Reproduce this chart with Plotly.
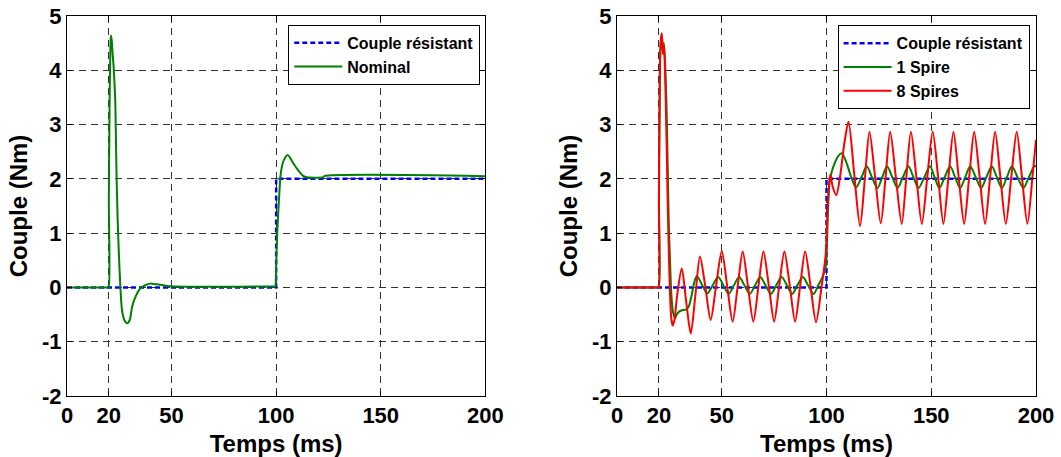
import plotly.graph_objects as go

# ---------------- data ----------------
x_ticks = [0, 20, 50, 100, 150, 200]
y_ticks = [-2, -1, 0, 1, 2, 3, 4, 5]

# load torque (step at 100 ms)
t_ref = [0, 100, 100, 200]
c_ref = [0, 0, 2, 2]

# left panel : nominal
t_nom = [0, 19.5, 19.9, 20.0, 20.3, 20.5, 20.8, 21.0, 21.4, 21.8, 22.3, 22.8, 23.1, 23.6,
         24.2, 24.8, 25.5, 26.3, 27.4, 28.7, 30.0, 31.1, 33.0, 35.0, 37.4, 39.8, 42.2,
         44.6, 49.4, 99.3, 99.6, 100.0, 100.5, 101.1, 101.7, 102.3, 103.6, 105.5, 108.3,
         110.7, 113.1, 114.7, 122.5, 123.0, 200]
c_nom = [0, 0, 0, 1.6, 3.1, 3.8, 4.5, 4.64, 4.55, 4.31, 4.06, 3.69, 3.39, 2.25,
         1.27, 0.63, 0.02, -0.42, -0.6, -0.66, -0.6, -0.36, -0.15, -0.02, 0.04, 0.07, 0.06,
         0.05, 0.02, 0.02, 0.02, 0.4, 1.0, 1.45, 1.85, 2.13, 2.34, 2.44, 2.28,
         2.15, 2.05, 2.03, 2.03, 2.05, 2.05]

# right panel : 1 spire
t_s1 = [0, 19.5, 19.9, 20.0, 20.3, 20.6, 21.0, 21.4, 21.9, 22.4, 23.0, 23.6, 24.2, 24.7,
        25.3, 25.9, 26.7, 27.7, 28.5, 29.5, 31.0, 32.8, 34.2, 35.6, 36.8, 38.1, 40.6,
        43.1, 45.7, 48.3, 50.8, 53.3, 55.8, 58.3, 60.8, 63.4, 65.9, 68.4, 70.9, 73.5,
        76.0, 78.6, 81.1, 83.6, 86.1, 88.7, 91.2, 93.8, 96.2, 98.4, 99.7, 100.2, 100.8,
        101.5, 102.5, 104.0, 105.6, 107.3, 109.5, 111.8, 114.1, 116.6, 119.2, 121.7,
        124.3, 126.6, 128.9, 131.4, 133.9, 136.5, 139.1, 141.5, 143.9, 146.7, 149.4,
        151.6, 153.9, 156.4, 159.0, 161.4, 163.8, 166.2, 168.6, 171.2, 173.8, 176.3,
        178.9, 181.3, 183.7, 186.1, 188.5, 191.2, 194.0, 196.6, 199.3, 200]
c_s1 = [0, 0, 0, 1.6, 3.2, 4.2, 4.55, 4.65, 4.35, 4.5, 4.1, 3.4, 2.2, 1.2,
        0.5, -0.1, -0.45, -0.57, -0.5, -0.45, -0.42, -0.41, -0.35, -0.15, 0.08, 0.21, 0.05,
        -0.11, 0.04, 0.19, 0.04, -0.12, 0.04, 0.19, 0.04, -0.12, 0.04, 0.19, 0.04, -0.12,
        0.04, 0.19, 0.04, -0.12, 0.04, 0.19, 0.04, -0.12, 0.05, 0.22, 0.4, 0.8, 1.5,
        1.95, 2.13, 2.3, 2.42, 2.47, 2.3, 2.03, 1.84, 2.02, 2.23, 2.03,
        1.83, 2.03, 2.23, 2.03, 1.83, 2.03, 2.23, 2.03, 1.83, 2.03, 2.23,
        2.03, 1.83, 2.03, 2.23, 2.03, 1.83, 2.03, 2.23, 2.03, 1.83, 2.03,
        2.23, 2.03, 1.83, 2.03, 2.23, 2.03, 1.83, 2.03, 2.24, 2.22]

# right panel : 8 spires
t_s8 = [0, 19.5, 19.9, 20.0, 20.3, 20.6, 21.0, 21.4, 21.9, 22.4, 22.9, 23.4, 23.9, 24.4,
        24.9, 25.5, 26.0, 26.6, 27.4, 28.7, 30.9, 33.0, 35.2, 37.4, 39.6, 42.2, 44.7,
        47.3, 50.0, 52.6, 55.2, 57.6, 60.0, 62.5, 65.1, 67.5, 69.9, 72.5, 75.0, 77.4,
        79.9, 82.5, 85.0, 87.4, 89.8, 92.4, 95.0, 97.6, 99.6, 100.3, 101.0, 101.8, 103.0,
        104.7, 106.5, 108.5, 110.5, 113.2, 116.0, 118.3, 120.5, 123.2, 125.9, 128.2,
        130.4, 133.1, 135.9, 138.1, 140.3, 142.9, 145.5, 148.1, 150.7, 153.3, 155.8,
        158.2, 160.6, 163.1, 165.7, 168.1, 170.5, 173.1, 175.7, 178.1, 180.5, 183.0,
        185.6, 188.2, 190.8, 193.3, 195.9, 198.3, 200]
c_s8 = [0, 0, 0, 1.6, 3.2, 4.3, 4.6, 4.68, 4.3, 4.45, 4.0, 3.2, 2.2, 1.2,
        0.4, -0.3, -0.6, -0.7, -0.6, -0.15, 0.35, -0.25, -0.85, -0.15, 0.57, 0.0, -0.6,
        0.03, 0.67, 0.02, -0.63, 0.02, 0.66, 0.02, -0.63, 0.02, 0.66, 0.02, -0.63, 0.02,
        0.66, 0.02, -0.63, 0.02, 0.66, 0.02, -0.64, 0.0, 0.6, 1.2, 1.8, 2.08, 1.85,
        1.70, 2.05, 2.65, 3.05, 2.1, 1.13, 2.0, 2.87, 2.03, 1.18, 2.03,
        2.87, 2.03, 1.17, 2.03, 2.87, 2.03, 1.17, 2.03, 2.87, 2.03, 1.17,
        2.03, 2.87, 2.03, 1.17, 2.03, 2.87, 2.03, 1.17, 2.03, 2.87, 2.03,
        1.17, 2.03, 2.87, 2.03, 1.17, 2.03, 2.72]

# ---------------- figure ----------------
FONT = "Liberation Sans, Arial, sans-serif"
BLUE, GREEN, RED = "#0000FF", "#008000", "#FF0000"

fig = go.Figure()

fig.add_trace(go.Scatter(x=t_ref, y=c_ref, mode="lines", name="Couple résistant",
                         line=dict(color=BLUE, width=2.5, dash="5px,3px"),
                         xaxis="x", yaxis="y", legend="legend"))
fig.add_trace(go.Scatter(x=t_nom, y=c_nom, mode="lines", name="Nominal",
                         line=dict(color=GREEN, width=2, shape="spline", smoothing=0.8),
                         xaxis="x", yaxis="y", legend="legend"))

fig.add_trace(go.Scatter(x=t_ref, y=c_ref, mode="lines", name="Couple résistant",
                         line=dict(color=BLUE, width=2.5, dash="5px,3px"),
                         xaxis="x2", yaxis="y2", legend="legend2"))
fig.add_trace(go.Scatter(x=t_s1, y=c_s1, mode="lines", name="1 Spire",
                         line=dict(color=GREEN, width=2, shape="spline", smoothing=0.8),
                         xaxis="x2", yaxis="y2", legend="legend2"))
fig.add_trace(go.Scatter(x=t_s8, y=c_s8, mode="lines", name="8 Spires",
                         line=dict(color=RED, width=2, shape="spline", smoothing=0.8),
                         xaxis="x2", yaxis="y2", legend="legend2"))

tickfont = dict(family=FONT, size=22, color="black", weight="bold")
titlefont = dict(family=FONT, size=24, color="black", weight="bold")

def xaxis(domain, anchor):
    return dict(domain=domain, anchor=anchor, range=[0, 200], tickmode="array",
                tickvals=x_ticks, ticktext=[str(v) for v in x_ticks],
                showline=True, linecolor="black", linewidth=1, mirror="ticks",
                ticks="inside", ticklen=5, tickcolor="black",
                showgrid=True, gridcolor="#333333", griddash="7px,5px", gridwidth=1,
                zeroline=False, tickfont=tickfont, automargin=False,
                ticklabeloverflow="allow",
                title=dict(text="Temps (ms)", font=titlefont, standoff=17))

def yaxis(anchor):
    return dict(domain=[0, 1], anchor=anchor, range=[-2, 5], tickmode="array",
                tickvals=y_ticks, ticktext=[str(v) for v in y_ticks],
                showline=True, linecolor="black", linewidth=1, mirror="ticks",
                ticks="inside", ticklen=5, tickcolor="black",
                showgrid=True, gridcolor="#333333", griddash="7px,5px", gridwidth=1,
                zeroline=False, tickfont=tickfont, automargin=False,
                ticklabeloverflow="allow",
                title=dict(text="Couple (Nm)", font=titlefont, standoff=7))

legend_common = dict(xanchor="right", yanchor="top", bgcolor="white",
                     bordercolor="black", borderwidth=1,
                     font=dict(family=FONT, size=16, color="black", weight="bold"),
                     tracegroupgap=0, itemwidth=48)

fig.update_layout(
    width=1061, height=457, template="none",
    paper_bgcolor="white", plot_bgcolor="white",
    margin=dict(l=66.7, r=25.3, t=15.7, b=61, pad=0, autoexpand=False),
    xaxis=xaxis([0, 0.4317], "y"),
    yaxis=yaxis("x"),
    xaxis2=xaxis([0.5676, 1.0], "y2"),
    yaxis2=yaxis("x2"),
    legend=dict(x=0.4265, y=0.977, **legend_common),
    legend2=dict(x=0.9934, y=0.9755, **legend_common),
    showlegend=True,
)

# remove the default 8 px page margin so the figure fills the window exactly
fig.write_html("out.html", config={"displayModeBar": False},
               post_script="document.body.style.margin='0';")
